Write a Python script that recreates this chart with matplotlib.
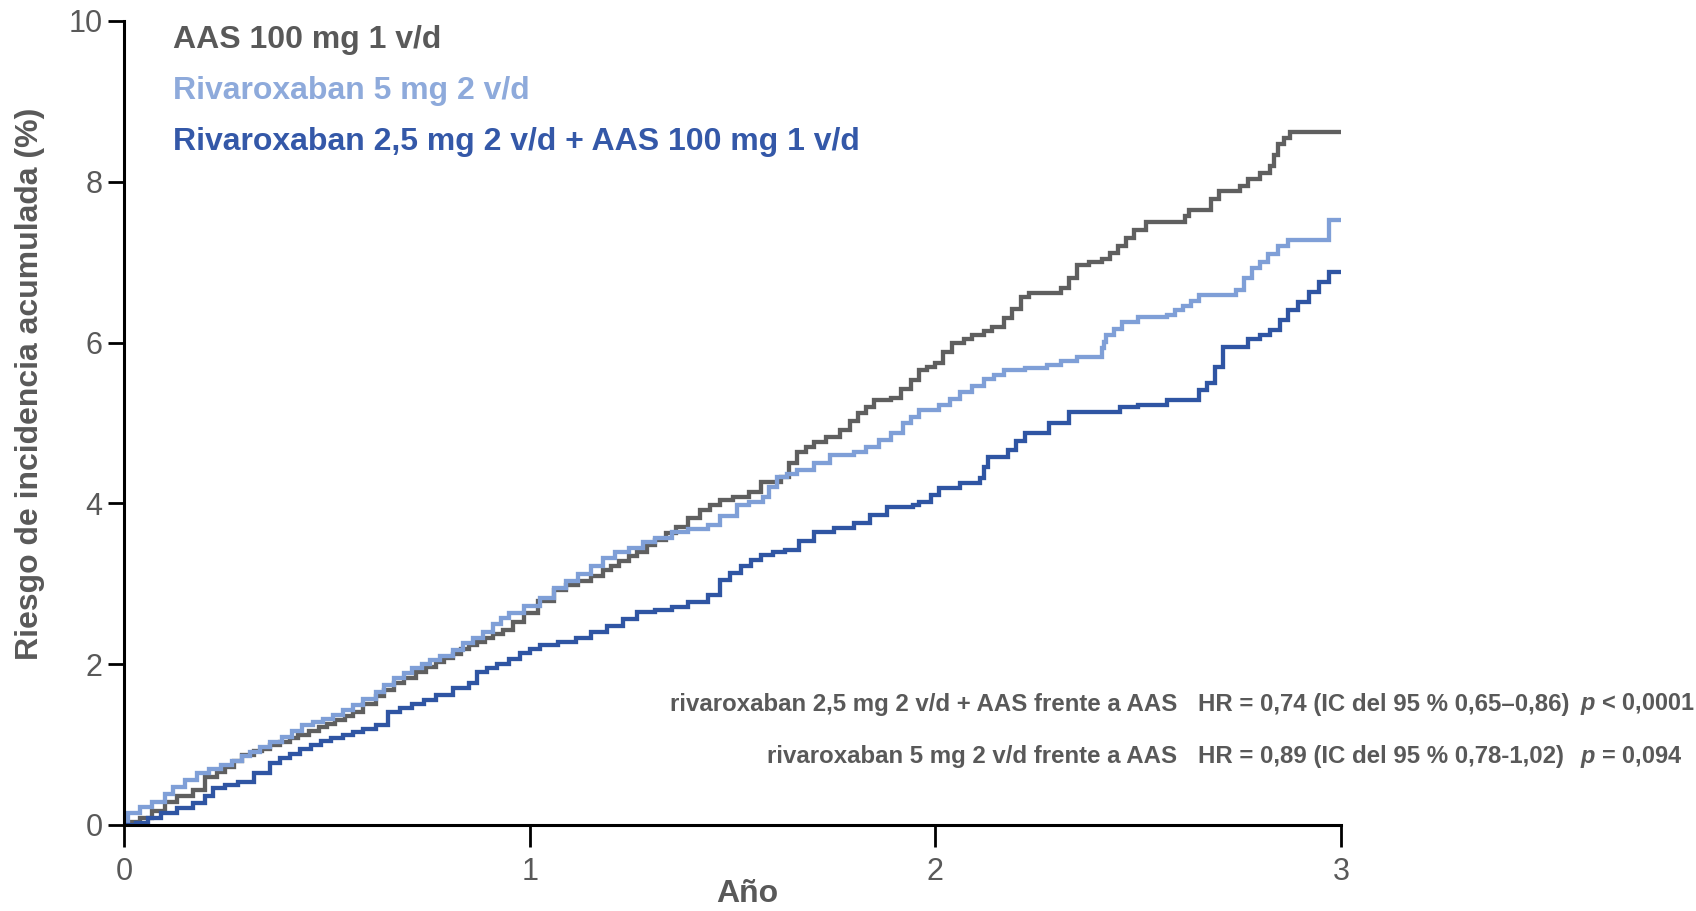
import matplotlib
matplotlib.use("Agg")
import matplotlib.pyplot as plt
from matplotlib import font_manager

names = {f.name for f in font_manager.fontManager.ttflist}
FAM = "Liberation Sans" if "Liberation Sans" in names else "DejaVu Sans"
plt.rcParams["font.family"] = [FAM, "DejaVu Sans"]
plt.rcParams["mathtext.fontset"] = "custom"
plt.rcParams["mathtext.it"] = f"{FAM}:italic:bold"
plt.rcParams["mathtext.rm"] = f"{FAM}:bold"

# ---- data ----
aas_t = [0, 0.02, 0.04, 0.07, 0.1, 0.13, 0.17, 0.2, 0.23, 0.25, 0.27, 0.29, 0.32, 0.34,
         0.36, 0.385, 0.41, 0.43, 0.455, 0.48, 0.5, 0.52, 0.545, 0.565, 0.59, 0.62, 0.64,
         0.665, 0.69, 0.72, 0.745, 0.77, 0.79, 0.81, 0.83, 0.85, 0.87, 0.89, 0.91, 0.935,
         0.96, 0.985, 1.02, 1.06, 1.09, 1.12, 1.15, 1.18, 1.2, 1.22, 1.245, 1.265, 1.29,
         1.31, 1.335, 1.36, 1.39, 1.42, 1.445, 1.47, 1.5, 1.54, 1.57, 1.62, 1.64, 1.66,
         1.68, 1.70, 1.73, 1.765, 1.79, 1.81, 1.83, 1.85, 1.89, 1.915, 1.94, 1.96, 1.98,
         2.0, 2.02, 2.04, 2.07, 2.09, 2.12, 2.14, 2.17, 2.19, 2.21, 2.23, 2.31, 2.33, 2.35,
         2.38, 2.41, 2.43, 2.45, 2.47, 2.49, 2.52, 2.615, 2.625, 2.66, 2.68, 2.70, 2.75,
         2.77, 2.80, 2.825, 2.835, 2.845, 2.86, 2.875, 3.0]
aas_v = [0, 0.04, 0.09, 0.18, 0.29, 0.36, 0.44, 0.6, 0.66, 0.72, 0.8, 0.87, 0.92, 0.95,
         0.99, 1.03, 1.08, 1.12, 1.17, 1.22, 1.26, 1.3, 1.36, 1.41, 1.5, 1.6, 1.68,
         1.77, 1.83, 1.9, 1.97, 2.03, 2.08, 2.13, 2.19, 2.24, 2.28, 2.33, 2.38, 2.43,
         2.52, 2.64, 2.78, 2.92, 2.98, 3.03, 3.1, 3.17, 3.22, 3.28, 3.34, 3.4, 3.48,
         3.55, 3.63, 3.71, 3.82, 3.92, 3.98, 4.04, 4.08, 4.14, 4.27, 4.33, 4.5, 4.64,
         4.7, 4.76, 4.83, 4.91, 5.02, 5.12, 5.2, 5.29, 5.31, 5.42, 5.53, 5.66, 5.7,
         5.75, 5.88, 6.0, 6.05, 6.1, 6.15, 6.19, 6.3, 6.42, 6.57, 6.62, 6.68, 6.8, 6.97,
         7.0, 7.04, 7.12, 7.2, 7.3, 7.4, 7.5, 7.58, 7.65, 7.65, 7.78, 7.89, 7.95,
         8.03, 8.11, 8.2, 8.33, 8.47, 8.55, 8.62, 8.62]

riva5_t = [0, 0.01, 0.04, 0.07, 0.1, 0.12, 0.15, 0.18, 0.21, 0.24, 0.265, 0.29, 0.31,
           0.335, 0.36, 0.39, 0.415, 0.44, 0.465, 0.49, 0.515, 0.54, 0.565, 0.59, 0.62,
           0.64, 0.665, 0.69, 0.71, 0.735, 0.755, 0.78, 0.81, 0.835, 0.86, 0.885, 0.91,
           0.93, 0.95, 0.985, 1.025, 1.06, 1.09, 1.12, 1.15, 1.18, 1.21, 1.245, 1.28,
           1.31, 1.35, 1.39, 1.44, 1.47, 1.51, 1.54, 1.575, 1.59, 1.61, 1.635, 1.66, 1.7,
           1.74, 1.80, 1.83, 1.86, 1.89, 1.92, 1.94, 1.96, 2.01, 2.035, 2.06, 2.09, 2.12,
           2.145, 2.17, 2.22, 2.275, 2.31, 2.35, 2.41, 2.415, 2.42, 2.44, 2.46, 2.50,
           2.57, 2.59, 2.61, 2.63, 2.65, 2.74, 2.76, 2.78, 2.80, 2.82, 2.845, 2.87,
           2.95, 2.97, 3.0]
riva5_v = [0, 0.15, 0.22, 0.29, 0.38, 0.47, 0.56, 0.65, 0.7, 0.75, 0.8, 0.86, 0.91,
           0.97, 1.03, 1.1, 1.17, 1.24, 1.28, 1.32, 1.37, 1.43, 1.49, 1.57, 1.66,
           1.74, 1.83, 1.89, 1.95, 2.0, 2.05, 2.1, 2.18, 2.26, 2.33, 2.4, 2.5,
           2.57, 2.64, 2.72, 2.82, 2.95, 3.04, 3.12, 3.22, 3.32, 3.39, 3.45, 3.52,
           3.57, 3.64, 3.68, 3.73, 3.84, 3.98, 4.02, 4.08, 4.2, 4.33, 4.37, 4.42, 4.5,
           4.6, 4.64, 4.7, 4.79, 4.88, 5.0, 5.08, 5.16, 5.22, 5.3, 5.39, 5.46, 5.55,
           5.6, 5.66, 5.68, 5.72, 5.77, 5.82, 5.93, 6.01, 6.09, 6.17, 6.25, 6.32,
           6.34, 6.4, 6.45, 6.52, 6.59, 6.65, 6.8, 6.93, 7.0, 7.1, 7.2, 7.28,
           7.28, 7.52, 7.52]

combo_t = [0, 0.03, 0.06, 0.09, 0.13, 0.17, 0.2, 0.22, 0.25, 0.28, 0.32, 0.36, 0.385,
           0.41, 0.435, 0.46, 0.485, 0.51, 0.54, 0.565, 0.59, 0.62, 0.65, 0.68, 0.71, 0.74,
           0.77, 0.81, 0.85, 0.87, 0.895, 0.92, 0.95, 0.975, 1.0, 1.025, 1.07, 1.115, 1.15,
           1.19, 1.23, 1.265, 1.31, 1.35, 1.39, 1.44, 1.47, 1.495, 1.52, 1.545, 1.57, 1.6,
           1.63, 1.665, 1.70, 1.75, 1.80, 1.84, 1.88, 1.945, 1.96, 1.99, 2.01, 2.06, 2.11,
           2.12, 2.13, 2.18, 2.2, 2.22, 2.28, 2.33, 2.455, 2.5, 2.57, 2.65, 2.67, 2.69,
           2.71, 2.77, 2.8, 2.825, 2.85, 2.87, 2.895, 2.92, 2.945, 2.97, 3.0]
combo_v = [0, 0.03, 0.09, 0.15, 0.21, 0.27, 0.36, 0.46, 0.5, 0.54, 0.65, 0.77, 0.83,
           0.88, 0.94, 1.0, 1.04, 1.08, 1.12, 1.16, 1.2, 1.24, 1.41, 1.45, 1.5, 1.56,
           1.62, 1.7, 1.77, 1.9, 1.95, 2.0, 2.07, 2.14, 2.19, 2.24, 2.28, 2.33, 2.4,
           2.47, 2.56, 2.65, 2.68, 2.71, 2.77, 2.86, 3.05, 3.13, 3.22, 3.3, 3.36, 3.39,
           3.42, 3.53, 3.64, 3.7, 3.76, 3.86, 3.96, 3.98, 4.02, 4.1, 4.19, 4.25, 4.32,
           4.45, 4.58, 4.66, 4.77, 4.88, 5.0, 5.14, 5.2, 5.22, 5.29, 5.41, 5.5, 5.7,
           5.95, 6.05, 6.1, 6.16, 6.28, 6.4, 6.5, 6.63, 6.75, 6.88, 6.88]

series_labels = ["AAS 100 mg 1 v/d", "Rivaroxaban 5 mg 2 v/d",
                 "Rivaroxaban 2,5 mg 2 v/d + AAS 100 mg 1 v/d"]
x_ticks = [0, 1, 2, 3]
y_ticks = [0, 2, 4, 6, 8, 10]

line_colors = ["#5f5f5f", "#7f9fd7", "#2f55a3"]
text_colors = ["#595959", "#8eaadb", "#3458a8"]
GRAY = "#595959"

W, H = 1696, 911
fig = plt.figure(figsize=(W / 100, H / 100), dpi=100)
ax = fig.add_axes([124 / W, 1 - 825 / H, (1341 - 124) / W, (825 - 21) / H])

for t, v, c in zip([aas_t, riva5_t, combo_t], [aas_v, riva5_v, combo_v], line_colors):
    ax.plot(t, v, drawstyle="steps-post", color=c, lw=3.1, solid_joinstyle="miter")

ax.set_xlim(0, 3)
ax.set_ylim(0, 10)
ax.set_xticks(x_ticks)
ax.set_yticks(y_ticks)
ax.set_xticklabels([str(v) for v in x_ticks])
ax.set_yticklabels([str(v) for v in y_ticks])
for s in ["top", "right"]:
    ax.spines[s].set_visible(False)
for s in ["left", "bottom"]:
    ax.spines[s].set_linewidth(2.2)
    ax.spines[s].set_color("black")
ax.tick_params(axis="y", direction="out", length=11.5, width=2.0, pad=4,
               labelsize=22, labelcolor=GRAY)
ax.tick_params(axis="x", direction="out", length=16, width=2.0, pad=7,
               labelsize=22, labelcolor=GRAY)

# axis titles
fig.text(30 / W, 1 - 384 / H, "Riesgo de incidencia acumulada (%)", fontsize=23,
         fontweight="bold", color=GRAY, rotation=90, ha="center", va="center")
fig.text(747 / W, 1 - 894 / H, "Año", fontsize=23, fontweight="bold", color=GRAY,
         ha="center", va="center")

# legend-like labels
for i, (lab, c) in enumerate(zip(series_labels, text_colors)):
    fig.text(173 / W, 1 - (40 + 51 * i) / H, lab, fontsize=23, fontweight="bold",
             color=c, ha="left", va="center")

# HR annotations
rows = [("rivaroxaban 2,5 mg 2 v/d + AAS frente a AAS",
         "HR = 0,74 (IC del 95 % 0,65–0,86)", r"$p$ < 0,0001", 704),
        ("rivaroxaban 5 mg 2 v/d frente a AAS",
         "HR = 0,89 (IC del 95 % 0,78-1,02)", r"$p$ = 0,094", 757)]
for a, b, c, y in rows:
    yy = 1 - y / H
    fig.text(1177 / W, yy, a, fontsize=17.3, fontweight="bold", color=GRAY,
             ha="right", va="center")
    fig.text(1198 / W, yy, b, fontsize=17.3, fontweight="bold", color=GRAY,
             ha="left", va="center")
    fig.text(1580 / W, yy, c, fontsize=16.9, fontweight="bold", color=GRAY,
             ha="left", va="center")

fig.savefig("out.png", dpi=100)
